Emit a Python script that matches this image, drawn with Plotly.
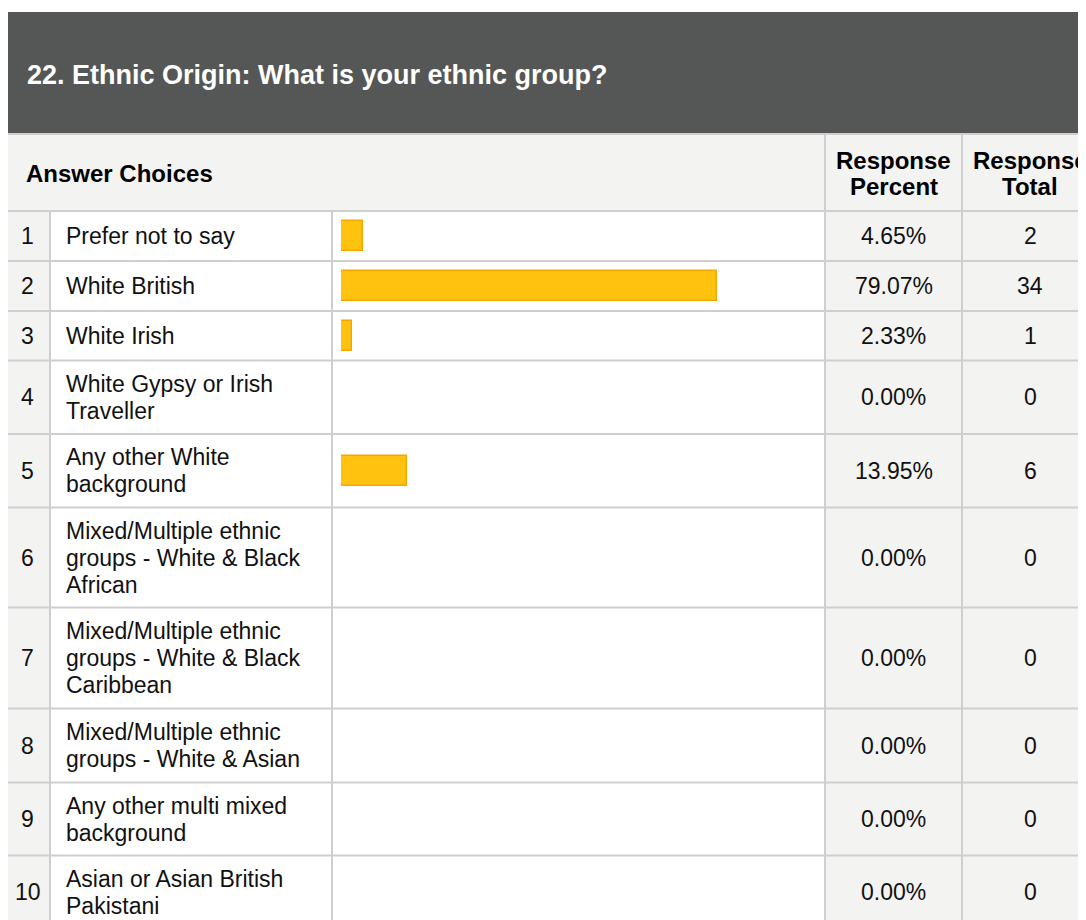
import plotly.graph_objects as go

# ---------------- data ----------------
TITLE = "22. Ethnic Origin: What is your ethnic group?"
HEADERS = ["Answer Choices", "Response<br>Percent", "Response<br>Total"]
ROW_NUMBERS = ["1", "2", "3", "4", "5", "6", "7", "8", "9", "10"]
CHOICES = [
    "Prefer not to say",
    "White British",
    "White Irish",
    "White Gypsy or Irish<br>Traveller",
    "Any other White<br>background",
    "Mixed/Multiple ethnic<br>groups - White & Black<br>African",
    "Mixed/Multiple ethnic<br>groups - White & Black<br>Caribbean",
    "Mixed/Multiple ethnic<br>groups - White & Asian",
    "Any other multi mixed<br>background",
    "Asian or Asian British<br>Pakistani",
]
PERCENT = [4.65, 79.07, 2.33, 0.00, 13.95, 0.00, 0.00, 0.00, 0.00, 0.00]
TOTAL = [2, 34, 1, 0, 6, 0, 0, 0, 0, 0]

# ---------------- layout (pixels, in screenshot coordinates) ----------------
W, H = 1086, 920
OFF = 8  # page body margin around the plot
X_LEFT, X_NUM, X_LABEL, X_PCT, X_TOT, X_RIGHT = 5, 50, 332, 825, 962, 1100
TOT_CENTER = 1030
TITLE_TOP, TITLE_BOTTOM, HEADER_BOTTOM = 12, 134, 211
ROW_H = [50, 50, 49.5, 73.5, 73.5, 100, 101, 74, 73, 73]
BAR_X0, BAR_FULL = 341, 475.5
LINE_GAP = 27

row_tops = []
y = HEADER_BOTTOM
for h in ROW_H:
    row_tops.append(y)
    y += h
row_bottoms = [t + h for t, h in zip(row_tops, ROW_H)]
row_centers = [t + h / 2 for t, h in zip(row_tops, ROW_H)]

FONT = "Liberation Sans, Arial, sans-serif"
BODY = 23
GRID = "#cfcfcf"
LIGHT = "#f3f3f2"
DARK = "#555756"

fig = go.Figure()

# bars, drawn through their own percent axis
fig.add_trace(go.Bar(
    x=PERCENT, y=row_centers, orientation="h", width=30,
    xaxis="x2", yaxis="y",
    marker=dict(color="#FFC20E", line=dict(color="#F7A600", width=1.5)),
    hoverinfo="skip", showlegend=False,
))

shapes = []
BOTTOM = H + 40
shapes.append(dict(type="rect", x0=X_LEFT, x1=X_RIGHT, y0=TITLE_TOP, y1=TITLE_BOTTOM,
                   fillcolor=DARK, line=dict(width=0), layer="below"))
shapes.append(dict(type="rect", x0=X_LEFT, x1=X_RIGHT, y0=TITLE_BOTTOM, y1=HEADER_BOTTOM,
                   fillcolor=LIGHT, line=dict(width=0), layer="below"))
shapes.append(dict(type="rect", x0=X_LEFT, x1=X_NUM, y0=HEADER_BOTTOM, y1=BOTTOM,
                   fillcolor=LIGHT, line=dict(width=0), layer="below"))
shapes.append(dict(type="rect", x0=X_PCT, x1=X_RIGHT, y0=HEADER_BOTTOM, y1=BOTTOM,
                   fillcolor=LIGHT, line=dict(width=0), layer="below"))
for yy in [TITLE_BOTTOM, HEADER_BOTTOM] + row_bottoms:
    shapes.append(dict(type="line", x0=X_LEFT, x1=X_RIGHT, y0=yy, y1=yy,
                       line=dict(color=GRID, width=2), layer="below"))
shapes.append(dict(type="line", x0=X_LEFT, x1=X_LEFT, y0=TITLE_TOP, y1=BOTTOM,
                   line=dict(color=GRID, width=2), layer="below"))
for xx in [X_NUM, X_LABEL]:
    shapes.append(dict(type="line", x0=xx, x1=xx, y0=HEADER_BOTTOM, y1=BOTTOM,
                       line=dict(color=GRID, width=2), layer="below"))
for xx in [X_PCT, X_TOT]:
    shapes.append(dict(type="line", x0=xx, x1=xx, y0=TITLE_BOTTOM, y1=BOTTOM,
                       line=dict(color=GRID, width=2), layer="below"))

annotations = []


def txt(x, y, text, size=BODY, color="#111111", xanchor="center", bold=False, gap=LINE_GAP):
    lines = text.split("<br>")
    n = len(lines)
    for k, line in enumerate(lines):
        yy = y + (k - (n - 1) / 2) * gap
        t = f"<b>{line}</b>" if bold else line
        annotations.append(dict(x=x, y=yy, xref="x", yref="y", text=t, showarrow=False,
                                xanchor=xanchor, yanchor="middle", align="left",
                                borderpad=0,
                                font=dict(family=FONT, size=size, color=color)))


txt(26, 75, TITLE, size=27, color="#ffffff", xanchor="left", bold=True)
txt(25, 173, HEADERS[0], size=24, xanchor="left", color="#000000", bold=True)
txt((X_PCT + X_TOT) / 2, 173, HEADERS[1], size=24, color="#000000", bold=True, gap=26)
txt(TOT_CENTER, 173, HEADERS[2], size=24, color="#000000", bold=True, gap=26)

for i, yc in enumerate(row_centers):
    txt((X_LEFT + X_NUM) / 2, yc, ROW_NUMBERS[i])
    txt(65, yc, CHOICES[i], xanchor="left")
    txt((X_PCT + X_TOT) / 2, yc, f"{PERCENT[i]:.2f}%")
    txt(TOT_CENTER, yc, f"{TOTAL[i]}")

fig.update_layout(
    width=W, height=H,
    margin=dict(l=0, r=0, t=0, b=0),
    paper_bgcolor="#ffffff", plot_bgcolor="rgba(0,0,0,0)",
    showlegend=False,
    xaxis=dict(range=[OFF, W + OFF], domain=[0, 1], visible=False, fixedrange=True),
    xaxis2=dict(range=[0, 100],
                domain=[(BAR_X0 - OFF) / W, (BAR_X0 + BAR_FULL - OFF) / W],
                anchor="y", visible=False, fixedrange=True),
    yaxis=dict(range=[H + OFF, OFF], domain=[0, 1], visible=False, fixedrange=True),
    shapes=shapes,
    annotations=annotations,
    bargap=0,
)

fig.write_html("out.html")
